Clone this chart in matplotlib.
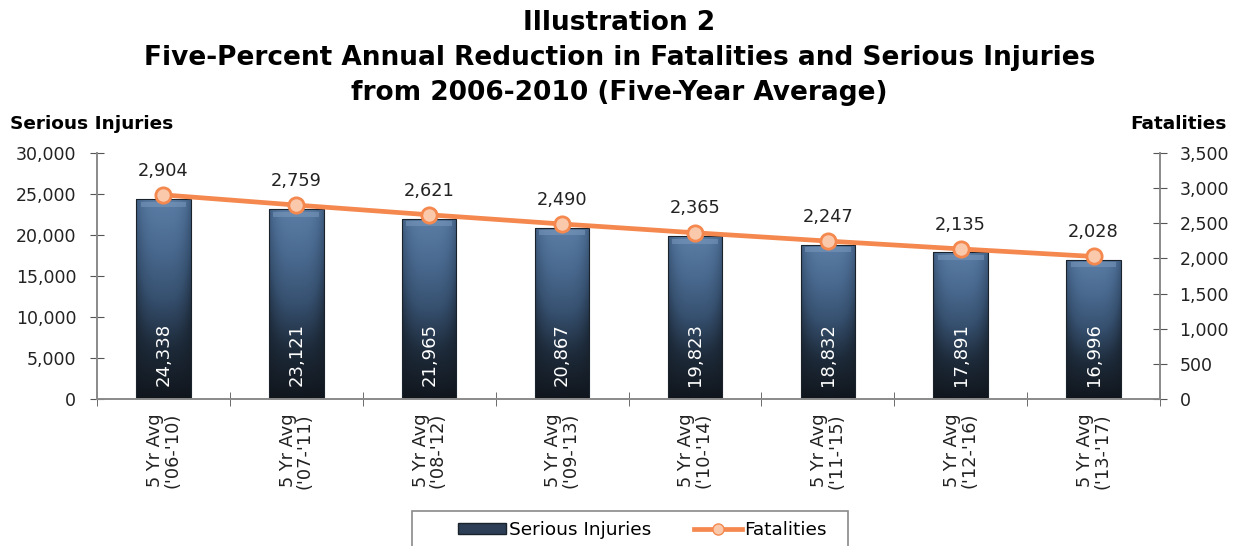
import numpy as np
import matplotlib
matplotlib.use("Agg")
import matplotlib.pyplot as plt
from matplotlib.patches import Rectangle
from matplotlib.lines import Line2D
from matplotlib.colors import LinearSegmentedColormap
from matplotlib.ticker import FuncFormatter

# chart data
periods = ["5 Yr Avg\n('06-'10)", "5 Yr Avg\n('07-'11)", "5 Yr Avg\n('08-'12)",
           "5 Yr Avg\n('09-'13)", "5 Yr Avg\n('10-'14)", "5 Yr Avg\n('11-'15)",
           "5 Yr Avg\n('12-'16)", "5 Yr Avg\n('13-'17)"]
serious_injuries = [24338, 23121, 21965, 20867, 19823, 18832, 17891, 16996]
fatalities = [2904, 2759, 2621, 2490, 2365, 2247, 2135, 2028]

title_lines = ["Illustration 2",
               "Five-Percent Annual Reduction in Fatalities and Serious Injuries",
               "from 2006-2010 (Five-Year Average)"]

plt.rcParams['font.family'] = ['DejaVu Sans']

W, H = 1239, 546
fig = plt.figure(figsize=(W / 100, H / 100), dpi=100)
ax = fig.add_axes([97 / W, 1 - 399 / H, (1160 - 97) / W, (399 - 153) / H])
ax2 = ax.twinx()

x = np.arange(len(periods))
bar_w = 0.41

# bars with a vertical gradient (clipped to each bar)
bar_cmap = LinearSegmentedColormap.from_list(
    "bar", ["#11161d", "#1d2a39", "#36506f", "#4a6a90", "#5b7da5"])
bars = ax.bar(x, serious_injuries, width=bar_w, color="none",
              edgecolor="#1a222c", linewidth=0.8, zorder=2)
for b in bars:
    x0, y0 = b.get_x(), b.get_y()
    w, h = b.get_width(), b.get_height()
    grad = np.linspace(0, 1, 256).reshape(-1, 1)
    cols = np.linspace(0, 1, 32)
    edge = 1 - 0.35 * (np.abs(cols - 0.5) * 2) ** 3
    img = grad * edge
    im = ax.imshow(img, cmap=bar_cmap, vmin=0, vmax=1, origin="lower",
                   extent=[x0, x0 + w, y0, y0 + h], aspect="auto", zorder=1.5,
                   interpolation="bilinear")
    im.set_clip_path(b)
    # top bevel highlight
    ax.add_patch(Rectangle((x0 + w * 0.08, h - 900), w * 0.84, 600,
                           color="#7f9cc0", alpha=0.5, lw=0, zorder=1.8))

for xi, v in zip(x, serious_injuries):
    ax.annotate(f"{v:,}", (xi, 0), xytext=(0, 9), textcoords="offset points",
                rotation=90, ha="center", va="bottom", color="white",
                fontsize=13, zorder=3)

ax.set_xlim(-0.5, len(periods) - 0.5)
ax.set_ylim(0, 30000)
ax.set_yticks(np.arange(0, 30001, 5000))
ax.yaxis.set_major_formatter(FuncFormatter(lambda v, p: f"{int(v):,}"))
ax.set_xticks(x)
ax.set_xticklabels(periods, rotation=90, fontsize=12.8, color="#222222",
                   multialignment="right", linespacing=0.95)
ax.set_xticks(np.arange(-0.5, len(periods), 1), minor=True)
ax.tick_params(axis="x", which="major", length=0, pad=10)
ax.tick_params(axis="x", which="minor", direction="inout", length=10,
               color="#555555")
ax.tick_params(axis="y", direction="inout", length=10, color="#555555",
               labelsize=12.5, labelcolor="#222222", pad=10)

# fatalities line on right axis
ax2.plot(x, fatalities, color="#F4884E", lw=3.4, marker="o", markersize=11,
         markerfacecolor="#FAC8AB", markeredgecolor="#F4884E",
         markeredgewidth=2, zorder=4)
for xi, v in zip(x, fatalities):
    ax2.annotate(f"{v:,}", (xi, v), xytext=(0, 11), textcoords="offset points",
                 ha="center", va="bottom", fontsize=12.8, color="#222222")
ax2.set_ylim(0, 3500)
ax2.set_yticks(np.arange(0, 3501, 500))
ax2.yaxis.set_major_formatter(FuncFormatter(lambda v, p: f"{int(v):,}"))
ax2.tick_params(axis="y", direction="inout", length=10, color="#555555",
                labelsize=12.5, labelcolor="#222222", pad=9)

for a in (ax, ax2):
    a.spines["top"].set_visible(False)
    for s in ("left", "right", "bottom"):
        a.spines[s].set_color("#8a8a8a")
        a.spines[s].set_linewidth(1.2)

# titles and axis captions
for line, base in zip(title_lines, [30, 65, 100]):
    fig.text(0.5, 1 - base / H, line, ha="center", va="baseline",
             fontsize=19, fontweight="bold")
fig.text(10 / W, 1 - 124 / H, "Serious Injuries", ha="left", va="center",
         fontsize=13.3, fontweight="bold")
fig.text(1227 / W, 1 - 124 / H, "Fatalities", ha="right", va="center",
         fontsize=13.3, fontweight="bold")

# legend (frame drawn separately, it runs off the bottom edge)
fig.add_artist(Rectangle((412 / W, -0.05), (848 - 412) / W, 0.05 + 1 - 511 / H,
                         transform=fig.transFigure, fill=False,
                         edgecolor="#8a8a8a", linewidth=1.2))
h_bar = Rectangle((0, 0), 1, 1, facecolor="#2c3f57", edgecolor="#1a222c")
h_line = Line2D([], [], color="#F4884E", lw=3.4, marker="o", markersize=8,
                markerfacecolor="#FAC8AB", markeredgecolor="#F4884E")
fig.legend([h_bar, h_line], ["Serious Injuries", "Fatalities"],
           loc="center left", bbox_to_anchor=(458 / W, 1 - 530 / H), ncol=2,
           frameon=False, fontsize=13.3, handlelength=2.6, handleheight=0.5,
           columnspacing=2.3, borderpad=0, handletextpad=0.15,
           borderaxespad=0)

fig.savefig("out.png", dpi=100)
